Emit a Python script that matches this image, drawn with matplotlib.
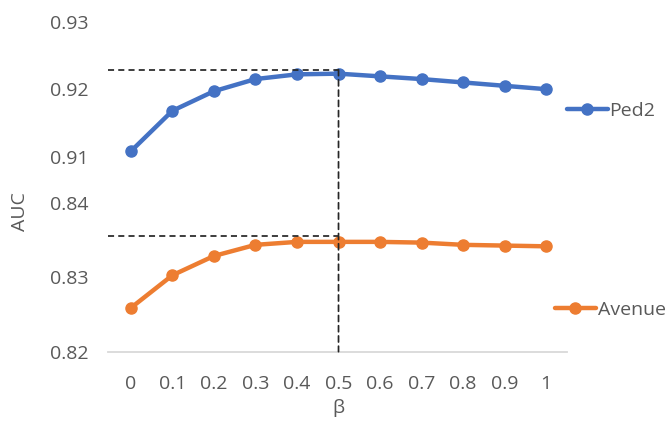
import matplotlib

matplotlib.use("Agg")
import matplotlib.pyplot as plt
from matplotlib.patches import ConnectionPatch

# AUC against the weighting factor beta, for two datasets on a split y-axis
beta = [0.0, 0.1, 0.2, 0.3, 0.4, 0.5, 0.6, 0.7, 0.8, 0.9, 1.0]
beta_labels = ["0", "0.1", "0.2", "0.3", "0.4", "0.5", "0.6", "0.7", "0.8", "0.9", "1"]
ped2_auc = [0.9108, 0.9168, 0.9197, 0.9215, 0.9222, 0.9223, 0.9219, 0.9215, 0.9210, 0.9205, 0.9200]
avenue_auc = [0.8259, 0.8303, 0.8329, 0.8344, 0.8348, 0.8348, 0.8348, 0.8347, 0.8344, 0.8343, 0.8342]
ped2_ref = 0.9229
avenue_ref = 0.8356
best_beta = 0.5

ped2_ticks = [0.91, 0.92, 0.93]
avenue_ticks = [0.82, 0.83, 0.84]

BLUE = "#4472C4"
ORANGE = "#ED7D31"
TEXT = "#595959"
FONT = "Open Sans"
FS = 14
XLIM = (-0.055, 1.05)

plt.rcParams["font.family"] = [FONT, "DejaVu Sans"]

fig = plt.figure(figsize=(6.7, 4.23), dpi=100)
ax_top = fig.add_axes([0.1612, 0.6296, 0.685, 0.3191])
ax_bot = fig.add_axes([0.1612, 0.1686, 0.685, 0.3508])

line_kw = dict(lw=3.2, marker="o", markersize=8, solid_capstyle="round")
(h_ped2,) = ax_top.plot(beta, ped2_auc, color=BLUE, label="Ped2", **line_kw)
(h_avenue,) = ax_bot.plot(beta, avenue_auc, color=ORANGE, label="Avenue", **line_kw)

dash_kw = dict(color="#262626", lw=1.25, linestyles=(0, (3.5, 2.4)))
ax_top.hlines(ped2_ref, XLIM[0], best_beta, **dash_kw)
ax_bot.hlines(avenue_ref, XLIM[0], best_beta, **dash_kw)

for ax, ticks in ((ax_top, ped2_ticks), (ax_bot, avenue_ticks)):
    ax.set_xlim(*XLIM)
    ax.set_ylim(ticks[0], ticks[-1])
    ax.set_yticks(ticks)
    ax.set_yticklabels([f"{t:.2f}" for t in ticks])
    for s in ax.spines.values():
        s.set_visible(False)
    ax.tick_params(axis="y", length=0, pad=14, labelsize=FS, labelcolor=TEXT)
    ax.patch.set_alpha(0)

ax_top.set_xticks([])
ax_bot.set_xticks(beta)
ax_bot.set_xticklabels(beta_labels)
ax_bot.tick_params(axis="x", length=0, pad=17, labelsize=FS, labelcolor=TEXT)
ax_bot.spines["bottom"].set_visible(True)
ax_bot.spines["bottom"].set_color("#D9D9D9")
ax_bot.spines["bottom"].set_linewidth(1.3)

# vertical guide at the best beta, running through both panels
vline = ConnectionPatch(
    xyA=(best_beta, ped2_ref), coordsA=ax_top.transData,
    xyB=(best_beta, avenue_ticks[0]), coordsB=ax_bot.transData,
    color="#262626", lw=1.25, linestyle=(0, (3.5, 2.4)), zorder=3,
)
fig.add_artist(vline)

leg_kw = dict(
    loc="center left", frameon=False, fontsize=FS, labelcolor=TEXT,
    handlelength=2.1, handletextpad=0.1, borderpad=0, borderaxespad=0,
)
fig.legend(handles=[h_ped2], bbox_to_anchor=(0.846, 0.737), **leg_kw)
fig.legend(handles=[h_avenue], bbox_to_anchor=(0.828, 0.267), **leg_kw)

fig.text(0.03, 0.5, "AUC", rotation=90, ha="center", va="center",
         fontsize=FS, color=TEXT)
fig.text(0.505, 0.035, "β", ha="center", va="center", fontsize=FS, color=TEXT)

fig.savefig("out.png", dpi=100)
